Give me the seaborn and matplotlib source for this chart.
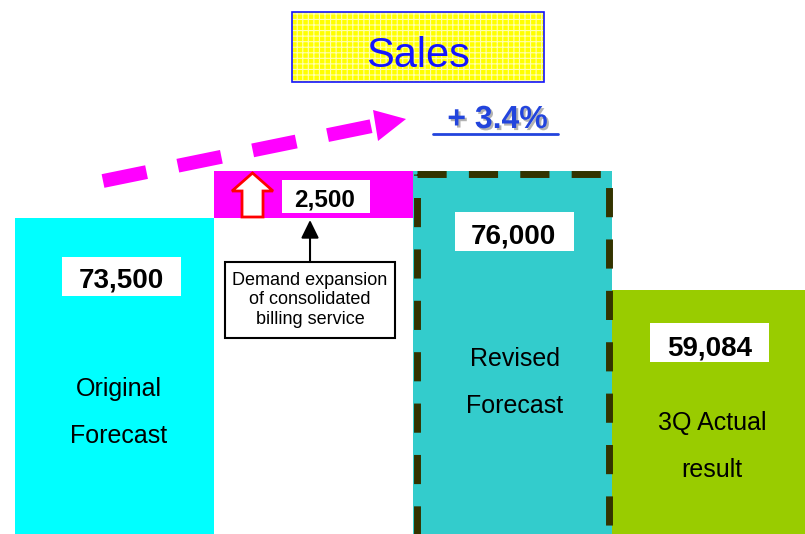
import matplotlib
matplotlib.use('Agg')
import matplotlib.pyplot as plt
import matplotlib.patheffects as pe
from matplotlib.patches import Rectangle, Polygon
import seaborn as sns

# ---------------- data ----------------
categories = ["Original\nForecast", "Increase", "Revised\nForecast", "3Q Actual\nresult"]
sales = [73500, 2500, 76000, 59084]
value_labels = ["73,500", "2,500", "76,000", "59,084"]
# schematic bar heights as drawn in the picture (chart is not to scale)
bar_level = [316, 0, 363, 244]
increase_base = 316
increase_height = 47
bar_colors = ["#00FFFF", "#FF00FF", "#33CCCC", "#99CC00"]
growth_label = "+ 3.4%"
note_text = "Demand expansion\nof consolidated\nbilling service"

sns.set_theme(style="white")
plt.rcParams['font.family'] = ['Liberation Sans', 'DejaVu Sans']
plt.rcParams['hatch.linewidth'] = 0.8

fig = plt.figure(figsize=(8.05, 5.34), dpi=100)
ax = fig.add_axes([0, 0, 1, 1])

sns.barplot(x=categories, y=bar_level, hue=categories, order=categories,
            palette=bar_colors, width=1, saturation=1, legend=False,
            linewidth=0, ax=ax)
ax.bar(1, increase_height, bottom=increase_base, width=1,
       color=bar_colors[1], linewidth=0)

ax.set_xlim(-0.575, 3.47)
ax.set_ylim(0, 534)
ax.axis('off')


# pixel helpers (image coords -> data coords)
def X(px):
    return px / 199 - 0.575


def Y(py):
    return 534 - py


def box(x0, y0, x1, y1, **kw):
    ax.add_patch(Rectangle((X(x0), Y(y1)), (x1 - x0) / 199, y1 - y0, **kw))


# dashed border round revised forecast
bx = [416.5, 608.5, 608.5, 416.5, 416.5]
by = [173.5, 173.5, 536, 536, 173.5]
ax.plot([X(v) for v in bx], [Y(v) for v in by], color="#333300", lw=5,
        linestyle=(0, (4.2, 3.2)), dash_capstyle='butt', solid_joinstyle='miter',
        clip_on=False)

# value boxes
label_box = [(62, 257, 181, 296), (282, 180, 370, 213), (455, 212, 574, 251), (650, 323, 769, 362)]
label_pos = [(121, 288, 20), (325, 207, 17.5), (513.5, 244, 20), (709.5, 355, 20)]
for (x0, y0, x1, y1), (tx, ty, fs), lab in zip(label_box, label_pos, value_labels):
    box(x0, y0, x1, y1, facecolor="white", linewidth=0)
    ax.text(X(tx), Y(ty), lab, ha='center', va='baseline', fontsize=fs,
            fontweight='bold', color='black')

# category names inside bars
cat_lines = [(119, 396, "Original"), (119, 443, "Forecast"),
             (514.5, 366, "Revised"), (514.5, 413, "Forecast"),
             (712, 430, "3Q Actual"), (712, 477, "result")]
for tx, ty, s in cat_lines:
    ax.text(X(tx), Y(ty), s, ha='center', va='baseline', fontsize=18, color='black')

# red up arrow in increase bar
arrow_pts = [(242, 217), (242, 191), (232, 191), (252.5, 173), (273, 191), (263, 191), (263, 217)]
ax.add_patch(Polygon([(X(a), Y(b)) for a, b in arrow_pts], closed=True,
                     facecolor='white', edgecolor='red', linewidth=2))

# callout note
box(225, 262, 395, 338, facecolor='white', edgecolor='black', linewidth=1.5)
ax.text(X(310), Y(300), note_text, ha='center', va='center', fontsize=13,
        linespacing=1.2, color='black')
ax.annotate('', xy=(X(310), Y(220)), xytext=(X(310), Y(262)),
            arrowprops=dict(arrowstyle='-|>,head_length=1.1,head_width=0.54',
                            lw=1.5, color='black', shrinkA=0, shrinkB=0,
                            mutation_scale=10))

# magenta dashed growth arrow
ax.plot([X(103), X(372)], [Y(181), Y(126)], color='#FF00FF', lw=10,
        linestyle=(0, (3.2, 2.3)), dash_capstyle='butt')
head = [(373, 110), (378, 141), (406, 119)]
ax.add_patch(Polygon([(X(a), Y(b)) for a, b in head], closed=True,
                     facecolor='#FF00FF', edgecolor='none'))

# growth label
ax.text(X(497.5), Y(128), growth_label, ha='center', va='baseline', fontsize=23,
        fontweight='bold', color='#2244DD',
        path_effects=[pe.withSimplePatchShadow(offset=(1.5, -1.5), shadow_rgbFace='gray', alpha=0.6)])
ax.plot([X(433), X(558)], [Y(134), Y(134)], color='#2244DD', lw=2)

# title box
box(292, 12, 544, 82, facecolor='#FFFF00', edgecolor='#FFFFB0', hatch='+++', linewidth=0)
box(292, 12, 544, 82, facecolor='none', edgecolor='#1414FF', linewidth=1.2)
ax.text(X(418), Y(67), "Sales", ha='center', va='baseline', fontsize=30, color='#1414FF')

fig.savefig('out.png', dpi=100)
